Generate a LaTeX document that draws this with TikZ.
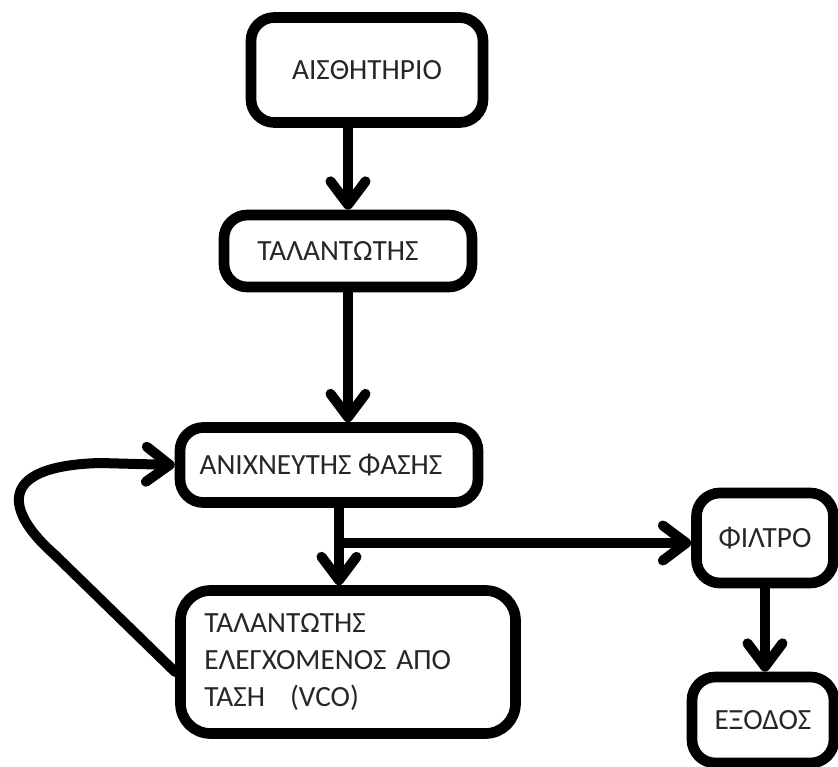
\documentclass[tikz,border=0pt]{standalone}
\usepackage{fontspec}
\setmainfont{Carlito}
\usetikzlibrary{arrows.meta}
\definecolor{inkblack}{HTML}{000000}
\definecolor{labelgray}{HTML}{262626}

\tikzset{
  block/.style={draw=inkblack, line width=3.2mm, rounded corners=7mm, fill=white,
                text=labelgray, font=\fontsize{25}{31.5}\selectfont, inner sep=0pt},
  flow/.style={draw=inkblack, line width=3mm, line cap=round,
               -{Straight Barb[length=7mm,width=10.5mm,round]}}
}

\begin{document}
\begin{tikzpicture}[x=0.03cm,y=-0.03cm]
  \useasboundingbox[fill=white] (0,0) rectangle (838,767);

  % blocks
  \node[block, minimum width=6.96cm, minimum height=3.15cm] (sensor) at (367,70) {ΑΙΣΘΗΤΗΡΙΟ};
  \node[block, minimum width=7.44cm, minimum height=2.16cm] (osc) at (348,251) {\hspace*{-0.6cm}ΤΑΛΑΝΤΩΤΗΣ};
  \node[block, minimum width=8.94cm, minimum height=2.25cm] (phase) at (329,465) {\hspace*{-0.48cm}ΑΝΙΧΝΕΥΤΗΣ ΦΑΣΗΣ};
  \node[block, rounded corners=9mm, text width=8.61cm, inner xsep=0.72cm,
        minimum height=4.29cm, align=left] (vco) at (348,662)
        {ΤΑΛΑΝΤΩΤΗΣ\\ΕΛΕΓΧΟΜΕΝΟΣ ΑΠΟ\\ΤΑΣΗ\hspace{0.75cm}(VCO)};
  \node[block, minimum width=4.11cm, minimum height=2.7cm] (filter) at (765,538) {ΦΙΛΤΡΟ};
  \node[block, minimum width=4.26cm, minimum height=2.58cm] (exit) at (763,720) {ΕΞΟΔΟΣ};

  % connectors
  \coordinate (split) at (339,543);
  \draw[flow] (sensor.south -| osc.north) -- (osc.north);
  \draw[flow] (osc.south) -- (osc.south |- phase.north);
  \draw[flow] (phase.south -| split) -- (vco.north -| split);
  \draw[flow] (split) -- (split -| filter.west);
  \draw[flow] (filter.south) -- (filter.south |- exit.north);
  % feedback loop
  \draw[flow] ([yshift=-0.3cm]vco.west) -- (55,555)
    .. controls (8,514) and (-8,466) .. (100,463) -- (phase.west);
\end{tikzpicture}
\end{document}
